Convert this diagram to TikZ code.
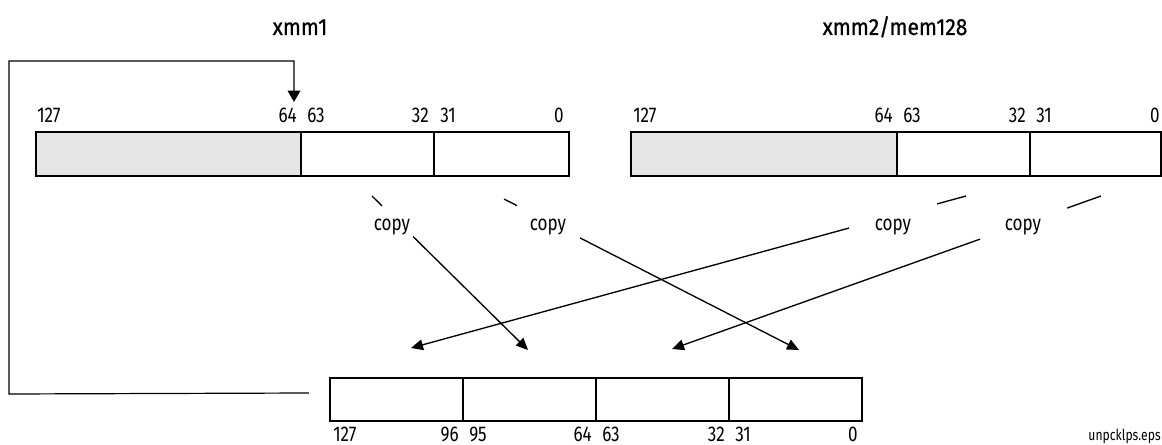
\documentclass[tikz,border=0pt]{standalone}
\usepackage{fontspec}
\setmainfont{Fira Sans}[FakeStretch=0.8]
\newfontfamily\titlefont{Fira Sans}[FakeStretch=0.9, FakeBold=0.8]
\usetikzlibrary{arrows.meta,fit,calc}
\begin{document}
\begin{tikzpicture}[x=0.75pt,y=-0.75pt,
  cell/.style={draw, line width=1.75pt, inner sep=0pt, fill=white},
  greycell/.style={cell, fill=black!10},
  num/.style={inner sep=0pt, font=\fontsize{16}{18}\selectfont},
  ttl/.style={inner sep=0pt, font=\titlefont\fontsize{17.5}{20}\selectfont},
  lbl/.style={inner sep=0pt, anchor=base, font=\fontsize{16}{18}\selectfont},
  fname/.style={inner sep=0pt, anchor=base east, font=\fontsize{11.4}{13}\selectfont},
  conn/.style={line width=1pt},
  arr/.style={conn, -{Triangle[length=9pt,width=8pt]}},
  fb/.style={line width=0.9pt, -{Triangle[length=8.5pt,width=9.5pt]}},
]
\useasboundingbox (0,0) rectangle (1162,445);

% titles
\node[ttl, anchor=base] (t1) at (300,35) {xmm1};
\node[ttl, anchor=base] (t2) at (895,35) {xmm2/mem128};

% xmm1 register
\node[greycell, fit={(36,132)(301,176)}] (a3) {};
\node[cell, fit={(301,132)(434,176)}] (a1) {};
\node[cell, fit={(434,132)(569,176)}] (a0) {};
\node[num, anchor=base west] (la127) at (37,123) {127};
\node[num, anchor=base east] (la64) at (297,123) {64};
\node[num, anchor=base west] (la63) at (307,123) {63};
\node[num, anchor=base east] (la32) at (429,123) {32};
\node[num, anchor=base west] (la31) at (440,123) {31};
\node[num, anchor=base east] (la0) at (564,123) {0};

% xmm2/mem128 register
\node[greycell, fit={(631,132)(897,176)}] (b3) {};
\node[cell, fit={(897,132)(1030,176)}] (b1) {};
\node[cell, fit={(1030,132)(1161,176)}] (b0) {};
\node[num, anchor=base west] (lb127) at (633,123) {127};
\node[num, anchor=base east] (lb64) at (893,123) {64};
\node[num, anchor=base west] (lb63) at (903,123) {63};
\node[num, anchor=base east] (lb32) at (1026,123) {32};
\node[num, anchor=base west] (lb31) at (1036,123) {31};
\node[num, anchor=base east] (lb0) at (1160,123) {0};

% destination register
\node[cell, fit={(330,378)(463,421)}] (d3) {};
\node[cell, fit={(463,378)(596,421)}] (d2) {};
\node[cell, fit={(596,378)(729,421)}] (d1) {};
\node[cell, fit={(729,378)(862,421)}] (d0) {};
\node[num, anchor=base west] (ld127) at (333,441) {127};
\node[num, anchor=base east] (ld96) at (459,441) {96};
\node[num, anchor=base west] (ld95) at (469,441) {95};
\node[num, anchor=base east] (ld64) at (592,441) {64};
\node[num, anchor=base west] (ld63) at (602,441) {63};
\node[num, anchor=base east] (ld32) at (725,441) {32};
\node[num, anchor=base west] (ld31) at (735,441) {31};
\node[num, anchor=base east] (ld0) at (858,441) {0};

\node[fname] (file) at (1161,440) {unpcklps.eps};

% feedback connector
\coordinate (fbs) at ($(d3.west)+(-20,-6.5)$);
\coordinate (fbl) at (9,394);
\coordinate (fbt) at (9,61);
\coordinate (fbe) at (294,102);
\draw[fb] (fbs) -- (fbl) -- (fbt) -- (fbe |- fbt) -- (fbe);

% copy connectors
\coordinate (s1) at (372,196); \coordinate (e1) at (528,350);
\coordinate (s2) at (504,199); \coordinate (e2) at (799,350);
\coordinate (s3) at (966,196); \coordinate (e3) at (411,348);
\coordinate (s4) at (1101,196); \coordinate (e4) at (672,349);

\draw[conn] (s1) -- ($(s1)!0.064!(e1)$);
\draw[arr] ($(s1)!0.263!(e1)$) -- (e1);
\draw[conn] (s2) -- ($(s2)!0.044!(e2)$);
\draw[arr] ($(s2)!0.258!(e2)$) -- (e2);
\draw[conn] (s3) -- ($(s3)!0.052!(e3)$);
\draw[arr] ($(s3)!0.211!(e3)$) -- (e3);
\draw[conn] (s4) -- ($(s4)!0.079!(e4)$);
\draw[arr] ($(s4)!0.282!(e4)$) -- (e4);

\node[lbl] (c1) at (392,230) {copy};
\node[lbl] (c2) at (548,230) {copy};
\node[lbl] (c3) at (893,230) {copy};
\node[lbl] (c4) at (1023,230) {copy};
\end{tikzpicture}
\end{document}
